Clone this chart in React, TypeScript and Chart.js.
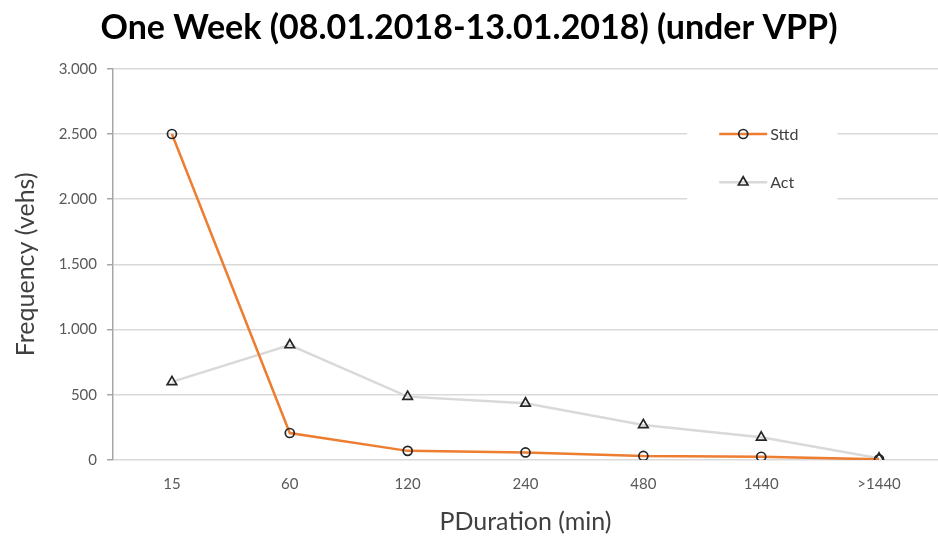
import React, { useEffect, useRef } from "react";
import { Chart, registerables } from "chart.js";

Chart.register(...registerables);

const categories = ["15", "60", "120", "240", "480", "1440", ">1440"];
const sttd = [2500, 207, 70, 58, 31, 25, 5];
const act = [599, 882, 486, 435, 269, 174, 13];
const yTicks = [0, 500, 1000, 1500, 2000, 2500, 3000];

const FONT = "Lato, 'Open Sans', sans-serif";

const fmt = (v: number) => {
  const s = Math.round(v).toString();
  return s.replace(/\B(?=(\d{3})+(?!\d))/g, ".");
};

const legendPlugin = {
  id: "insideLegend",
  afterDatasetsDraw(chart: any) {
    const ctx = chart.ctx;
    const x = chart.scales.x;
    const y = chart.scales.y;
    ctx.save();
    const boxL = x.left + (x.right - x.left) * 0.696;
    const boxR = x.left + (x.right - x.left) * 0.878;
    const boxT = y.getPixelForValue(2650);
    const boxB = y.getPixelForValue(1950);
    ctx.fillStyle = "#ffffff";
    ctx.fillRect(boxL, boxT, boxR - boxL, boxB - boxT);
    const items = [
      { ds: chart.data.datasets[0], v: 2500 },
      { ds: chart.data.datasets[1], v: 2130 },
    ];
    items.forEach((it) => {
      const py = y.getPixelForValue(it.v);
      const lx0 = boxL + 32;
      const lx1 = lx0 + 48;
      ctx.strokeStyle = it.ds.borderColor;
      ctx.lineWidth = it.ds.borderWidth;
      ctx.beginPath();
      ctx.moveTo(lx0, py);
      ctx.lineTo(lx1, py);
      ctx.stroke();
      const cx = (lx0 + lx1) / 2;
      ctx.strokeStyle = it.ds.pointBorderColor;
      ctx.fillStyle = it.ds.pointBackgroundColor;
      ctx.lineWidth = it.ds.pointBorderWidth;
      ctx.beginPath();
      if (it.ds.pointStyle === "triangle") {
        const r = it.ds.pointRadius;
        ctx.moveTo(cx, py - r);
        ctx.lineTo(cx + r * 0.87, py + r * 0.5);
        ctx.lineTo(cx - r * 0.87, py + r * 0.5);
        ctx.closePath();
      } else {
        ctx.arc(cx, py, it.ds.pointRadius, 0, Math.PI * 2);
      }
      ctx.fill();
      ctx.stroke();
      ctx.fillStyle = "#404040";
      ctx.font = `16px ${FONT}`;
      ctx.textAlign = "left";
      ctx.textBaseline = "middle";
      ctx.fillText(it.ds.label, lx1 + 3, py + 1);
    });
    ctx.restore();
  },
};

export default function App() {
  const ref = useRef<HTMLCanvasElement | null>(null);
  useEffect(() => {
    if (!ref.current) return;
    const chart = new Chart(ref.current, {
      type: "line",
      data: {
        labels: categories,
        datasets: [
          {
            label: "Sttd",
            data: sttd,
            borderColor: "#ED7D31",
            borderWidth: 2.5,
            pointStyle: "circle",
            pointRadius: 4.5,
            pointBorderColor: "#262626",
            pointBackgroundColor: "rgba(255,255,255,0)",
            pointBorderWidth: 1.7,
            tension: 0,
            order: 1,
          },
          {
            label: "Act",
            data: act,
            borderColor: "#D9D9D9",
            borderWidth: 2.5,
            pointStyle: "triangle",
            pointRadius: 5.5,
            pointBorderColor: "#262626",
            pointBackgroundColor: "rgba(255,255,255,0)",
            pointBorderWidth: 1.7,
            tension: 0,
            order: 2,
          },
        ],
      },
      options: {
        responsive: false,
        animation: false,
        layout: { autoPadding: false, padding: { left: 0, right: 0, top: 0, bottom: 0 } },
        plugins: {
          legend: { display: false },
          tooltip: { enabled: false },
          title: {
            display: true,
            text: "One Week (08.01.2018-13.01.2018) (under VPP)",
            color: "#000000",
            font: { family: FONT, size: 34, weight: "bold" },
            padding: { top: 8, bottom: 20 },
          },
        },
        scales: {
          x: {
            type: "category",
            offset: true,
            grid: {
              display: true,
              drawOnChartArea: false,
              drawTicks: true,
              tickLength: 14,
              tickColor: "rgba(0,0,0,0)",
              color: "rgba(0,0,0,0)",
            },
            border: { display: false },
            ticks: {
              color: "#595959",
              font: { family: FONT, size: 15 },
              padding: 1,
              maxRotation: 0,
            },
            title: {
              display: true,
              text: "PDuration (min)",
              color: "#404040",
              font: { family: FONT, size: 25 },
              padding: { top: 10, bottom: 4 },
            },
            afterFit: (s: any) => {
              s.height = 81;
            },
          },
          y: {
            min: 0,
            max: 3000,
            afterBuildTicks: (s: any) => {
              s.ticks = yTicks.map((v) => ({ value: v }));
            },
            grid: {
              color: "#D9D9D9",
              lineWidth: 1.5,
              drawTicks: true,
              tickLength: 6,
              tickColor: "#A6A6A6",
            },
            border: { display: true, color: "#A6A6A6", width: 1.5 },
            ticks: {
              color: "#595959",
              font: { family: FONT, size: 15 },
              padding: 10,
              callback: (v: any) => fmt(Number(v)),
            },
            title: {
              display: true,
              text: "Frequency (vehs)",
              color: "#404040",
              font: { family: FONT, size: 25 },
              padding: { top: 11, bottom: 6 },
            },
            afterFit: (s: any) => {
              s.width = 113;
            },
          },
        },
      },
      plugins: [legendPlugin],
    });
    return () => chart.destroy();
  }, []);
  return (
    <div style={{ position: "absolute", left: 0, top: 0, width: 938, height: 541, background: "#fff" }}>
      <canvas ref={ref} width={938} height={541} style={{ width: 938, height: 541 }} />
    </div>
  );
}
